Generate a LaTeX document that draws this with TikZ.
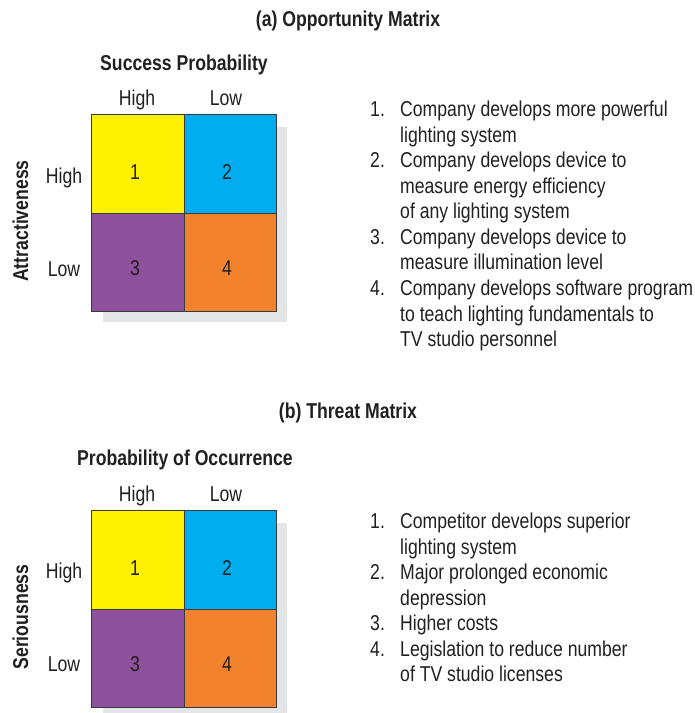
\documentclass[tikz,border=0pt]{standalone}
\usepackage{fontspec}
\setmainfont[FakeStretch=0.82]{Liberation Sans}
\definecolor{myyellow}{HTML}{FFF200}
\definecolor{mycyan}{HTML}{00AEEF}
\definecolor{mypurple}{HTML}{8E519E}
\definecolor{myorange}{HTML}{F3822C}
\definecolor{myshadow}{HTML}{E4E5E6}
\definecolor{mytext}{HTML}{231F20}
\definecolor{myborder}{HTML}{3A3A3A}
\tikzset{
  txt/.style={font=\fontsize{21.5}{24}\selectfont, text=mytext, inner sep=0pt,
    text height=15.2pt, text depth=0pt},
  btxt/.style={txt, font=\fontsize{21.5}{24}\selectfont\bfseries},
  item/.style={txt, anchor=west},
  cell/.style={draw=myborder, line width=1.1pt, minimum width=92.5pt, minimum height=98.5pt, inner sep=0pt},
  shadowbox/.style={fill=myshadow, draw=none}
}
\begin{document}
\begin{tikzpicture}[x=1pt,y=-1pt]
\useasboundingbox (0,0) rectangle (695,713);
% ---------- (a) ----------
\node[btxt] (ta) at (348,19) {(a) Opportunity Matrix};
\node[btxt] (sa) at (184,62.5) {Success Probability};
\node[txt] (ca1) at (137,98) {High};
\node[txt] (ca2) at (226,98) {Low};
\node[btxt, rotate=90] (va) at (20.5,221) {Attractiveness};
\node[txt] (ra1) at (64,175.5) {High};
\node[txt] (ra2) at (64,269) {Low};
\fill[myshadow] (103,127) rectangle (287,322);
\node[cell, fill=myyellow] (a1) at (137.9,164) {};
\node[cell, fill=mycyan] (a2) at (230.4,164) {};
\node[cell, fill=mypurple] (a3) at (137.9,262.5) {};
\node[cell, fill=myorange] (a4) at (230.4,262.5) {};
\node[txt] (na1) at (135,171.7) {1};
\node[txt] (na2) at (227,171.7) {2};
\node[txt] (na3) at (135,268) {3};
\node[txt] (na4) at (227,268) {4};
\node[item] (la1) at (370,109) {1.};
\node[item] (la1a) at (400,109) {Company develops more powerful};
\node[item] (la1b) at (400,134.5) {lighting system};
\node[item] (la2) at (370,160) {2.};
\node[item] (la2a) at (400,160) {Company develops device to};
\node[item] (la2b) at (400,185.5) {measure energy efficiency};
\node[item] (la2c) at (400,211) {of any lighting system};
\node[item] (la3) at (370,236.5) {3.};
\node[item] (la3a) at (400,236.5) {Company develops device to};
\node[item] (la3b) at (400,262) {measure illumination level};
\node[item] (la4) at (370,288) {4.};
\node[item] (la4a) at (400,288) {Company develops software program};
\node[item] (la4b) at (400,313.5) {to teach lighting fundamentals to};
\node[item] (la4c) at (400,339) {TV studio personnel};
% ---------- (b) ----------
\node[btxt] (tb) at (348,411) {(b) Threat Matrix};
\node[btxt] (sb) at (185,458) {Probability of Occurrence};
\node[txt] (cb1) at (137,494) {High};
\node[txt] (cb2) at (226,494) {Low};
\node[btxt, rotate=90] (vb) at (20.5,617) {Seriousness};
\node[txt] (rb1) at (64,571) {High};
\node[txt] (rb2) at (64,664) {Low};
\fill[myshadow] (103,523) rectangle (287,713);
\node[cell, fill=myyellow] (b1) at (137.9,560) {};
\node[cell, fill=mycyan] (b2) at (230.4,560) {};
\node[cell, fill=mypurple] (b3) at (137.9,658.5) {};
\node[cell, fill=myorange] (b4) at (230.4,658.5) {};
\node[txt] (nb1) at (135,567.7) {1};
\node[txt] (nb2) at (227,567.7) {2};
\node[txt] (nb3) at (135,664) {3};
\node[txt] (nb4) at (227,664) {4};
\node[item] (lb1) at (370,521) {1.};
\node[item] (lb1a) at (400,521) {Competitor develops superior};
\node[item] (lb1b) at (400,546.5) {lighting system};
\node[item] (lb2) at (370,572) {2.};
\node[item] (lb2a) at (400,572) {Major prolonged economic};
\node[item] (lb2b) at (400,597.5) {depression};
\node[item] (lb3) at (370,623) {3.};
\node[item] (lb3a) at (400,623) {Higher costs};
\node[item] (lb4) at (370,648.5) {4.};
\node[item] (lb4a) at (400,648.5) {Legislation to reduce number};
\node[item] (lb4b) at (400,674) {of TV studio licenses};
\end{tikzpicture}
\end{document}
